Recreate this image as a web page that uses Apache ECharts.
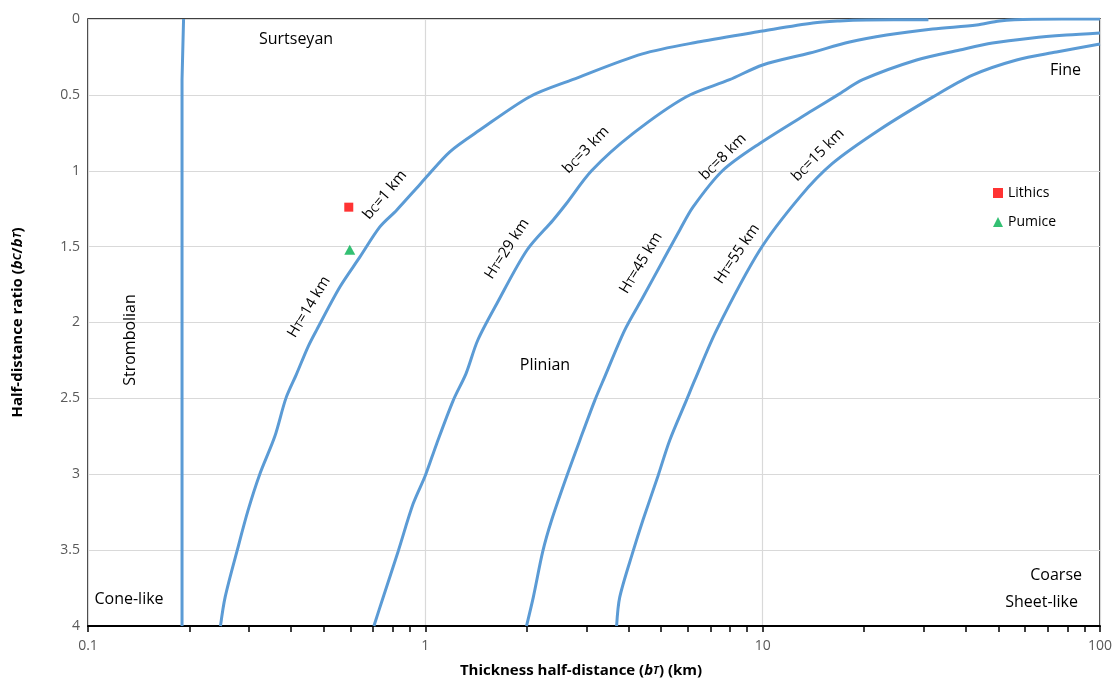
<!DOCTYPE html>
<html>
<head>
<meta charset="utf-8">
<script src="https://cdn.jsdelivr.net/npm/echarts@6/dist/echarts.min.js"></script>
<style>
  html, body { margin: 0; padding: 0; background: #fff; }
  #chart { width: 1112px; height: 679px; }
</style>
</head>
<body>
<div id="chart"></div>
<script>
// x tick positions on the log axis (major + minor)
const xTickValues = [0.1, 0.2, 0.3, 0.4, 0.5, 0.6, 0.7, 0.8, 0.9,
  1, 2, 3, 4, 5, 6, 7, 8, 9,
  10, 20, 30, 40, 50, 60, 70, 80, 90, 100]

// Strombolian boundary
const strombX = [0.192, 0.19, 0.19, 0.19, 0.19]
const strombY = [0, 0.4, 1.5, 3, 4]

// HT=14 km / bc=1 km
const ht14X = [0.247, 0.255, 0.277, 0.298, 0.323, 0.358, 0.386, 0.415, 0.449, 0.476, 0.558, 0.64, 0.733, 0.822, 0.94, 1.0, 1.182, 1.45, 2.04, 2.73, 4.4, 6.5, 10, 14.1, 16.9, 20.3, 31]
const ht14Y = [4.0, 3.81, 3.5, 3.24, 3.0, 2.75, 2.5, 2.34, 2.16, 2.05, 1.766, 1.568, 1.37, 1.26, 1.117, 1.05, 0.875, 0.732, 0.512, 0.40, 0.23, 0.15, 0.079, 0.026, 0.013, 0.007, 0.005]

// HT=29 km / bc=3 km
const ht29X = [0.704, 0.75, 0.831, 0.92, 1.0, 1.08, 1.21, 1.32, 1.43, 1.63, 2.0, 2.39, 2.62, 3.11, 4.13, 5.94, 7.98, 10, 13.8, 18.1, 23.3, 31.9, 43.1, 50.4, 63, 100]
const ht29Y = [4.0, 3.81, 3.507, 3.195, 3.008, 2.8, 2.513, 2.337, 2.117, 1.875, 1.524, 1.326, 1.216, 1.0, 0.754, 0.512, 0.40, 0.303, 0.224, 0.152, 0.106, 0.066, 0.04, 0.013, 0.002, 0]

// HT=45 km / bc=8 km
const ht45X = [1.995, 2.09, 2.23, 2.37, 2.63, 2.87, 3.18, 3.4, 3.9, 4.42, 5.07, 5.68, 6.22, 7.6, 9.8, 14.1, 16.7, 19.8, 28.6, 38.4, 48, 63, 79.5, 100]
const ht45Y = [4.0, 3.81, 3.507, 3.3, 3.008, 2.777, 2.513, 2.36, 2.05, 1.832, 1.59, 1.39, 1.238, 1.0, 0.82, 0.6, 0.5, 0.4, 0.27, 0.204, 0.158, 0.125, 0.106, 0.092]

// HT=55 km / bc=15 km
const ht55X = [3.69, 3.77, 4.13, 4.42, 4.9, 5.3, 5.94, 6.29, 7.3, 9.8, 12.9, 16.1, 22.2, 31.9, 41.9, 56.6, 74.3, 100]
const ht55Y = [4.0, 3.81, 3.507, 3.3, 3.008, 2.777, 2.513, 2.38, 2.05, 1.524, 1.172, 0.952, 0.73, 0.515, 0.37, 0.27, 0.218, 0.165]

// samples
const lithics = [[0.593, 1.24]]
const pumice = [[0.597, 1.52]]

const font = 'Open Sans'
const lineColor = '#5b9bd5'

const toPairs = (xs, ys) => xs.map((x, i) => [x, ys[i]])

const curve = (name, xs, ys, smooth) => ({
  name: name,
  type: 'line',
  data: toPairs(xs, ys),
  showSymbol: false,
  smooth: smooth,
  lineStyle: { color: lineColor, width: 3 },
  z: 3
})

const subRich = {
  s: { fontSize: 11, fontFamily: font, color: '#000', padding: [3, 0, 0, 0] }
}

// curve annotation text
const label = (text, x, y, deg) => ({
  type: 'text',
  x: x,
  y: y,
  rotation: deg * Math.PI / 180,
  style: {
    text: text,
    fontSize: 15,
    fontFamily: font,
    fill: '#000',
    align: 'center',
    verticalAlign: 'middle',
    rich: subRich
  },
  z: 10
})

const plain = (text, x, y, align, rot) => ({
  type: 'text',
  x: x,
  y: y,
  rotation: rot || 0,
  style: {
    text: text,
    fontSize: 16,
    fontFamily: font,
    fill: '#000',
    align: align || 'center',
    verticalAlign: 'middle'
  },
  z: 10
})

const nameRich = {
  i: { fontSize: 15, fontWeight: 'bold', fontStyle: 'italic', fontFamily: font, color: '#000' },
  is: { fontSize: 11, fontWeight: 'bold', fontStyle: 'italic', fontFamily: font, color: '#000' }
}

let chart = echarts.init(document.getElementById('chart'))

let option = {
  animation: false,
  backgroundColor: '#fff',
  grid: {
    left: 88, right: 12, top: 19, bottom: 53,
    outerBoundsMode: 'none',
    containLabel: false,
    show: true, borderColor: '#000', borderWidth: 1.5
  },
  legend: {
    data: ['Lithics', 'Pumice'],
    orient: 'vertical',
    left: 988,
    top: 181,
    itemWidth: 10,
    itemHeight: 10,
    itemGap: 15,
    textStyle: { fontSize: 14, fontFamily: font, color: '#000' }
  },
  xAxis: [
    {
      // bottom axis: labels, line, major and minor ticks
      type: 'log',
      logBase: 10,
      min: 0.1,
      max: 100,
      position: 'bottom',
      name: 'Thickness half-distance ({i|b}{is|T}) (km)',
      nameLocation: 'middle',
      nameGap: 37,
      nameTextStyle: {
        fontSize: 15, fontWeight: 'bold', fontFamily: font, color: '#000',
        padding: [0, 26, 0, 0],
        rich: nameRich
      },
      axisLine: { show: true, onZero: false, lineStyle: { color: '#000', width: 2 } },
      axisTick: { show: true, inside: false, customValues: xTickValues, length: 6, lineStyle: { color: '#000', width: 1.5 } },
      axisLabel: { color: '#595959', fontSize: 14, fontFamily: font, margin: 13 },
      splitLine: { show: false }
    },
    {
      // top helper axis: only the vertical gridlines at the decades
      type: 'log',
      logBase: 10,
      min: 0.1,
      max: 100,
      position: 'top',
      axisLine: { show: false },
      axisLabel: { show: false },
      axisTick: { show: false },
      splitLine: { show: true, lineStyle: { color: '#d9d9d9', width: 1.2 } }
    }
  ],
  yAxis: {
    type: 'value',
    inverse: true,
    min: 0,
    max: 4,
    interval: 0.5,
    name: 'Half-distance ratio ({i|b}{is|C}/{i|b}{is|T})',
    nameLocation: 'middle',
    nameGap: 63,
    nameTextStyle: {
      fontSize: 15, fontWeight: 'bold', fontFamily: font, color: '#000',
      rich: nameRich
    },
    axisLine: { show: false },
    axisTick: { show: false },
    axisLabel: { color: '#595959', fontSize: 14, fontFamily: font, margin: 8 },
    splitLine: { show: true, lineStyle: { color: '#d9d9d9', width: 1.2 } }
  },
  series: [
    curve('Strombolian', strombX, strombY, false),
    curve('HT=14 km', ht14X, ht14Y, 0.3),
    curve('HT=29 km', ht29X, ht29Y, 0.3),
    curve('HT=45 km', ht45X, ht45Y, 0.3),
    curve('HT=55 km', ht55X, ht55Y, 0.3),
    {
      name: 'Lithics',
      type: 'scatter',
      data: lithics,
      symbol: 'rect',
      symbolSize: 9,
      itemStyle: { color: '#ff0000' },
      z: 5
    },
    {
      name: 'Pumice',
      type: 'scatter',
      data: pumice,
      symbol: 'triangle',
      symbolSize: [11, 10],
      itemStyle: { color: '#00b050' },
      z: 5
    }
  ],
  graphic: [
    plain('Surtseyan', 296, 39),
    plain('Plinian', 545, 365),
    plain('Strombolian', 130, 340, 'center', Math.PI / 2),
    plain('Cone-like', 129, 599),
    plain('Fine', 1081, 70, 'right'),
    plain('Coarse', 1082, 575, 'right'),
    plain('Sheet-like', 1078, 602, 'right'),
    label('b{s|C}=1 km', 385, 195, 50),
    label('H{s|T}=14 km', 309, 307, 59),
    label('b{s|C}=3 km', 586, 150, 46),
    label('H{s|T}=29 km', 507, 249, 57),
    label('b{s|C}=8 km', 723, 157, 45),
    label('H{s|T}=45 km', 641, 263, 59),
    label('b{s|C}=15 km', 818, 155, 45),
    label('H{s|T}=55 km', 737, 254, 56)
  ]
}

chart.setOption(option)
</script>
</body>
</html>
